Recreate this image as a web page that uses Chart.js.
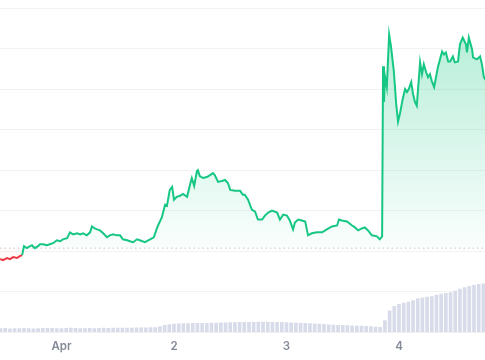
<!DOCTYPE html>
<html>
<head>
<meta charset="utf-8">
<script src="https://cdn.jsdelivr.net/npm/chart.js@4"></script>
<style>
  html, body { margin: 0; padding: 0; background: #ffffff; }
  #c { display: block; }
</style>
</head>
<body>
<canvas id="c" width="485" height="360"></canvas>
<script>
// Time in hours since Mar 31 00:00
const TIMES = [10.9,11.5,12.4,13.0,13.7,14.5,15.1,15.6,16.0,16.6,17.3,17.7,18.3,19.0,19.4,20.1,20.9,21.5,22.2,23.0,23.7,24.3,25.2,25.8,26.5,27.3,28.0,28.6,29.4,30.1,30.5,31.1,31.6,32.2,32.9,33.7,34.3,35.0,35.8,36.5,37.1,38.0,38.6,39.3,40.1,40.7,41.8,42.9,43.7,44.2,44.6,45.4,46.1,46.5,47.1,47.6,48.0,48.6,49.3,49.9,50.8,51.4,51.8,52.3,52.9,53.1,53.5,54.2,55.0,55.7,56.3,56.7,57.4,58.2,58.9,59.5,60.0,61.0,62.1,62.7,63.1,63.8,64.6,65.3,65.9,66.8,67.4,68.1,68.9,70.0,70.6,71.3,72.1,72.7,73.4,73.8,74.5,75.3,76.0,76.6,77.4,78.5,79.6,80.6,81.7,82.8,83.2,83.8,84.9,86.0,86.6,87.3,88.1,88.7,89.4,90.2,91.3,91.9,92.4,92.6,92.8,93.0,93.4,93.9,94.3,94.5,94.9,95.4,95.8,96.2,96.6,96.8,97.3,97.7,98.1,98.6,99.0,99.4,99.8,100.5,100.9,101.3,101.8,102.2,102.6,103.0,103.5,104.3,105.2,105.6,106.0,106.5,106.9,107.5,107.9,108.6,109.0,109.4,109.6,110.3,110.5,110.9,111.6,111.8,112.6,113.3,113.7,114.1,114.8];
const PRICES = [0.6402,0.6390,0.6415,0.6402,0.6427,0.6415,0.6439,0.6451,0.6561,0.6537,0.6561,0.6573,0.6537,0.6561,0.6585,0.6585,0.6573,0.6585,0.6598,0.6634,0.6622,0.6646,0.6659,0.6732,0.6707,0.6720,0.6707,0.6720,0.6695,0.6732,0.6805,0.6780,0.6768,0.6756,0.6720,0.6671,0.6695,0.6707,0.6695,0.6695,0.6646,0.6634,0.6622,0.6610,0.6646,0.6634,0.6610,0.6646,0.6671,0.6756,0.6817,0.6915,0.7073,0.7061,0.7256,0.7293,0.7134,0.7171,0.7183,0.7207,0.7171,0.7317,0.7402,0.7305,0.7488,0.7500,0.7427,0.7402,0.7415,0.7439,0.7463,0.7439,0.7354,0.7366,0.7378,0.7341,0.7256,0.7244,0.7244,0.7195,0.7195,0.7134,0.7012,0.6988,0.6890,0.6890,0.6939,0.6976,0.7000,0.6976,0.6890,0.6951,0.6939,0.6878,0.6768,0.6854,0.6890,0.6878,0.6866,0.6695,0.6720,0.6732,0.6732,0.6768,0.6805,0.6817,0.6890,0.6878,0.6866,0.6817,0.6793,0.6756,0.6780,0.6793,0.6756,0.6695,0.6683,0.6646,0.6683,0.8780,0.8341,0.8659,0.8524,0.9171,0.9024,0.9024,0.8720,0.8317,0.8098,0.8195,0.8317,0.8378,0.8500,0.8463,0.8500,0.8585,0.8439,0.8341,0.8293,0.8829,0.8683,0.8805,0.8707,0.8646,0.8683,0.8598,0.8524,0.8768,0.8963,0.8927,0.8951,0.8841,0.8841,0.8902,0.8829,0.8841,0.9049,0.9110,0.9134,0.9049,0.8951,0.9134,0.8988,0.8890,0.8866,0.8902,0.8805,0.8646,0.8585];
const BASE_PRICE = 0.6537;

// Hourly volume (arbitrary units, millions)
const VOL_TIMES = [11,12,13,14,15,16,17,18,19,20,21,22,23,24,25,26,27,28,29,30,31,32,33,34,35,36,37,38,39,40,41,42,43,44,45,46,47,48,49,50,51,52,53,54,55,56,57,58,59,60,61,62,63,64,65,66,67,68,69,70,71,72,73,74,75,76,77,78,79,80,81,82,83,84,85,86,87,88,89,90,91,92,93,94,95,96,97,98,99,100,101,102,103,104,105,106,107,108,109,110,111,112,113,114];
const VOLUMES = [2.0,2.1,1.9,2.0,2.0,2.1,2.0,1.9,2.0,2.1,2.1,2.1,2.0,2.0,2.1,2.2,2.1,2.0,2.0,2.1,2.0,2.1,2.2,2.1,2.2,2.2,2.3,2.3,2.3,2.4,2.4,2.4,2.5,2.5,3.0,3.6,4.0,4.3,4.4,4.5,4.5,4.6,4.6,4.7,4.7,4.8,4.8,4.9,4.9,5.0,5.0,5.1,5.1,5.2,5.2,5.3,5.3,5.3,5.2,5.2,5.1,5.0,4.9,4.8,4.7,4.6,4.5,4.4,4.3,4.2,3.9,3.8,3.7,3.6,3.5,3.4,3.3,3.2,3.1,3.0,2.8,2.6,6.0,11.0,13.2,14.3,14.9,15.4,16.2,17.2,17.6,17.9,18.2,19.0,19.5,19.8,20.2,21.0,22.0,22.7,23.4,23.9,24.4,24.6];

const TICK_VALUES = [24, 48, 72, 96];
const TICK_LABELS = ['Apr', '2', '3', '4'];

const X_MIN = 10.88, X_MAX = 114.35;
const GREEN = '#16c784';
const RED = '#ea3943';

const priceData = TIMES.map((t, i) => ({ x: t, y: PRICES[i] }));
const volData = VOL_TIMES.map((t, i) => ({ x: t, y: VOLUMES[i] }));
const baseData = [{ x: X_MIN, y: BASE_PRICE }, { x: X_MAX, y: BASE_PRICE }];

function fillGradient(ctx) {
  const chart = ctx.chart;
  const area = chart.chartArea;
  if (!area) return 'rgba(22,199,132,0.1)';
  const yb = chart.scales.y.getPixelForValue(BASE_PRICE);
  const g = chart.ctx.createLinearGradient(0, area.top, 0, area.bottom);
  let f = (yb - area.top) / (area.bottom - area.top);
  f = Math.max(0, Math.min(0.998, f));
  g.addColorStop(0, 'rgba(22,199,132,0.34)');
  g.addColorStop(f, 'rgba(22,199,132,0.02)');
  g.addColorStop(f + 0.001, 'rgba(234,57,67,0.02)');
  g.addColorStop(1, 'rgba(234,57,67,0.06)');
  return g;
}

new Chart(document.getElementById('c'), {
  data: {
    datasets: [
      {
        type: 'line',
        data: priceData,
        yAxisID: 'y',
        borderWidth: 2,
        pointRadius: 0,
        tension: 0,
        borderColor: GREEN,
        backgroundColor: fillGradient,
        fill: { target: { value: BASE_PRICE } },
        segment: {
          borderColor: c => (c.p0.parsed.y < BASE_PRICE - 0.004 || c.p1.parsed.y < BASE_PRICE - 0.004) && c.p1.parsed.y < BASE_PRICE ? RED : GREEN
        },
        order: 0
      },
      {
        type: 'line',
        data: baseData,
        yAxisID: 'y',
        borderColor: '#c4c4c4',
        borderWidth: 1,
        borderDash: [1.5, 3],
        pointRadius: 0,
        fill: false,
        order: 1
      },
      {
        type: 'bar',
        data: volData,
        yAxisID: 'y2',
        backgroundColor: '#d8dbe9',
        barPercentage: 0.78,
        categoryPercentage: 1,
        order: 2
      }
    ]
  },
  options: {
    responsive: false,
    animation: false,
    layout: { padding: { top: 8, left: 0, right: 0, bottom: 0 } },
    plugins: { legend: { display: false }, tooltip: { enabled: false } },
    scales: {
      x: {
        type: 'linear',
        min: X_MIN,
        max: X_MAX,
        offset: false,
        afterBuildTicks: s => { s.ticks = TICK_VALUES.map(v => ({ value: v })); },
        ticks: {
          autoSkip: false,
          maxRotation: 0,
          padding: 7,
          color: '#858a99',
          font: { family: 'Inter, "Noto Sans", sans-serif', size: 11.5, weight: '600' },
          callback: v => { const i = TICK_VALUES.indexOf(v); return i >= 0 ? TICK_LABELS[i] : ''; }
        },
        grid: { display: false, drawTicks: false },
        border: { display: false }
      },
      y: {
        type: 'linear',
        min: 0.55,
        max: 0.95,
        afterFit: s => { s.width = 0; },
        ticks: { display: false, stepSize: 0.05 },
        grid: { color: '#f2f2f2', lineWidth: 1, drawTicks: false },
        border: { display: false }
      },
      y2: {
        type: 'linear',
        display: false,
        min: 0,
        max: 164
      }
    }
  }
});
</script>
</body>
</html>
